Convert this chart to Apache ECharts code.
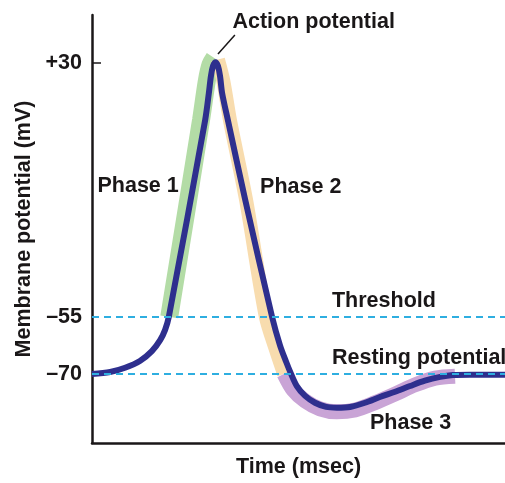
<!DOCTYPE html>
<html>
<head>
<meta charset="utf-8">
<script src="https://cdn.jsdelivr.net/npm/echarts@6/dist/echarts.min.js"></script>
<style>
html,body{margin:0;padding:0;background:#fff;}
#chart{width:505px;height:483px;}
</style>
</head>
<body>
<div id="chart"></div>
<script>
// ---- Data (time in msec, arbitrary; potential in mV) ----
const apTime = [0, 0.44, 0.8, 1.16, 1.45, 1.65, 1.77, 1.86, 2.74, 2.83, 2.88, 2.93, 2.99, 3.05, 3.10, 3.15, 3.29, 3.71, 4.36, 4.55, 4.70, 4.82, 4.96, 5.16, 5.40, 5.67, 5.93, 6.25, 6.61, 6.97, 7.34, 7.70, 8.06, 8.43, 8.74, 9.15, 10];
const apMv   = [-70, -69.5, -68.4, -66.6, -64.0, -61.1, -58.4, -55, 10.9, 20.0, 25.7, 29.0, 30.3, 29.0, 25.7, 20.0, 10.9, -15.8, -55, -62.4, -66.8, -70, -73.2, -75.8, -77.6, -78.7, -78.9, -78.7, -77.6, -76.1, -74.7, -73.2, -71.8, -70.8, -70.3, -70.2, -70.2];

const phase1Time = [1.87, 2.64, 2.78, 2.87, 2.96];
const phase1Mv   = [-55, 10.9, 24.0, 29.5, 31.7];

const phase2Time = [3.05, 3.18, 3.34, 3.73, 4.21, 4.455, 4.65];
const phase2Mv   = [31.2, 24.0, 10.9, -15.8, -55, -63.7, -70];

const phase3Time = [4.65, 4.87, 5.16, 5.52, 5.93, 6.37, 6.85, 7.34, 7.82, 8.31, 8.79];
const phase3Mv   = [-70, -74.2, -77.1, -79.2, -80, -79.5, -77.6, -75.3, -72.9, -71.1, -70.6];

const thresholdMv = -55;
const restingMv = -70;

const yTickValues = [-70, -55, 30];
const yTickLabels = ['\u201370', '\u201355', '+30'];

const annotTexts = ['Action potential', 'Phase 1', 'Phase 2', 'Threshold', 'Resting potential', 'Phase 3'];
const annotTime  = [3.40, 2.10, 4.07, 5.81, 5.81, 6.73];
const annotMv    = [43.7, -11.2, -11.5, -49.6, -65.8, -82.9];
const annotAlign = ['left', 'right', 'left', 'left', 'left', 'left'];

const leaderTime = [3.05, 3.46];
const leaderMv   = [33.0, 39.4];

const axisMinMv = -88.2, axisMaxMv = 46.1;
const timeMin = 0, timeMax = 10;

// ---- schematic (piecewise) display scale of the drawing ----
const K = 0.78638;
const toAxis = v => v <= -55 ? v : -55 + (v + 55) * K;
const fromAxis = t => t <= -55 ? t : -55 + (t + 55) / K;

const pair = (ts, vs) => ts.map((t, i) => [t, toAxis(vs[i])]);

const FONT = "'Liberation Sans', Arial, Helvetica, sans-serif";
const TXT = '#1a1718';
const FS = 21.5;

const chart = echarts.init(document.getElementById('chart'));
chart.setOption({
  animation: false,
  backgroundColor: '#fff',
  grid: { left: 92, right: 0, top: 15, bottom: 40 },
  xAxis: {
    type: 'value', min: timeMin, max: timeMax,
    name: 'Time (msec)', nameLocation: 'middle', nameGap: 13,
    nameTextStyle: { fontFamily: FONT, fontWeight: 'bold', fontSize: FS, color: TXT, verticalAlign: 'top' },
    axisLine: { onZero: false, lineStyle: { color: TXT, width: 2.5 } },
    axisTick: { show: false }, axisLabel: { show: false }, splitLine: { show: false }
  },
  yAxis: {
    type: 'value', min: toAxis(axisMinMv), max: toAxis(axisMaxMv),
    name: 'Membrane potential (mV)', nameLocation: 'middle', nameGap: 53,
    nameTextStyle: { fontFamily: FONT, fontWeight: 'bold', fontSize: FS, color: TXT },
    axisLine: { show: true, onZero: false, lineStyle: { color: TXT, width: 2.5 } },
    axisTick: { show: true, inside: true, length: 9, lineStyle: { color: TXT, width: 1.5 }, customValues: [toAxis(30)] },
    axisLabel: {
      customValues: yTickValues.map(toAxis), margin: 10,
      fontFamily: FONT, fontWeight: 'bold', fontSize: FS, color: TXT,
      formatter: function (t) {
        const mv = fromAxis(t);
        let best = 0;
        yTickValues.forEach((v, i) => { if (Math.abs(v - mv) < Math.abs(yTickValues[best] - mv)) best = i; });
        return yTickLabels[best];
      }
    },
    splitLine: { show: false }
  },
  series: [
    {
      type: 'line', data: [], z: 1, silent: true,
      markLine: {
        silent: true, symbol: ['none', 'none'], label: { show: false },
        lineStyle: { color: '#2eaee0', type: [7, 5], width: 2 },
        data: [{ yAxis: toAxis(thresholdMv) }, { yAxis: toAxis(restingMv) }]
      }
    },
    { type: 'line', data: pair(phase1Time, phase1Mv), z: 2, showSymbol: false, smooth: 0.3, lineStyle: { color: '#b3dca6', width: 18, cap: 'butt' } },
    { type: 'line', data: pair(phase2Time, phase2Mv), z: 2, showSymbol: false, smooth: 0.3, lineStyle: { color: '#f8dcae', width: 14, cap: 'butt' } },
    { type: 'line', data: pair(phase3Time, phase3Mv), z: 2, showSymbol: false, smooth: 0.3, lineStyle: { color: '#c9a4d6', width: 15, cap: 'butt' } },
    { type: 'line', data: pair(apTime, apMv), z: 3, showSymbol: false, smooth: 0.3, lineStyle: { color: '#2e2f8e', width: 6, join: 'round' } },
    { type: 'line', data: pair(leaderTime, leaderMv), z: 3, showSymbol: false, lineStyle: { color: TXT, width: 1.5 } },
    {
      type: 'scatter', z: 4, symbolSize: 0, silent: true,
      itemStyle: { opacity: 1 },
      data: annotTexts.map((s, i) => ({
        name: s, value: [annotTime[i], toAxis(annotMv[i])],
        label: { align: annotAlign[i] }
      })),
      label: {
        show: true, position: 'inside', formatter: '{b}', verticalAlign: 'middle',
        fontFamily: FONT, fontWeight: 'bold', fontSize: FS, color: TXT, opacity: 1
      }
    }
  ]
});
</script>
</body>
</html>
